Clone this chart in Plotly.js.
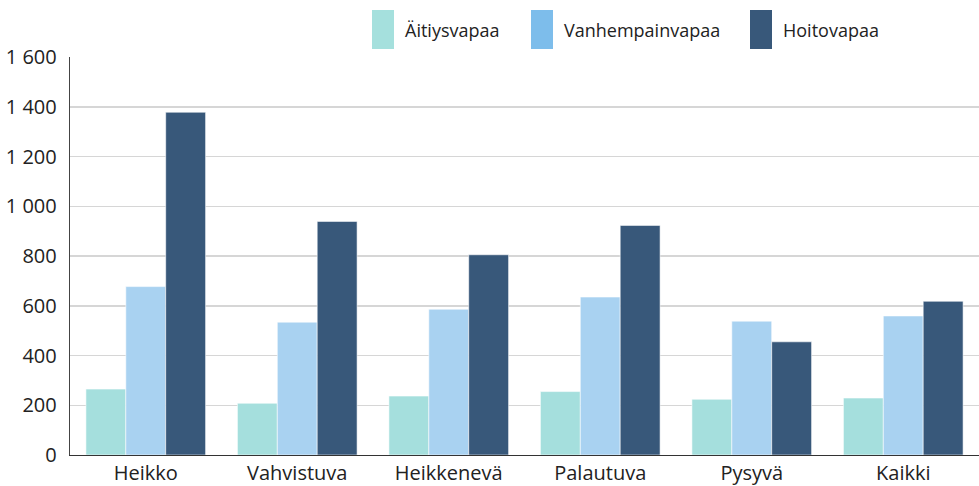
<!DOCTYPE html>
<html><head><meta charset="utf-8">
<script src="https://cdn.plot.ly/plotly-3.0.1.min.js"></script>
<style>html,body{margin:0;padding:0;background:#fff}#c{width:979px;height:486px}</style>
</head><body><div id="c"></div>
<script>
const categories = ["Heikko","Vahvistuva","Heikkenevä","Palautuva","Pysyvä","Kaikki"];
const seriesNames = ["Äitiysvapaa","Vanhempainvapaa","Hoitovapaa"];
const aitiysvapaa = [265, 208, 237, 255, 224, 229];
const vanhempainvapaa = [677, 534, 586, 635, 538, 559];
const hoitovapaa = [1378, 939, 805, 923, 455, 618];
const barColors = ["#a5dfdd", "#a9d2f1", "#38587a"];
const legendColors = ["#a5e0dd", "#7dbdeb", "#38587a"];
const yTicks = [0,200,400,600,800,1000,1200,1400,1600];

const values = [aitiysvapaa, vanhempainvapaa, hoitovapaa];
const traces = values.map((v,i)=>({
  type:'bar', x:categories, y:v, name:seriesNames[i],
  marker:{color:barColors[i], line:{color:'rgba(255,255,255,0.7)', width:0.8}},
  showlegend:false, hoverinfo:'x+y'
}));

const W = 909, H = 398;
const px = x => (x-70)/W;
const py = y => (455-y)/H;
const legendX = [372, 531, 750];
const legendW = 22;
const shapes = [], annotations = [];
legendX.forEach((x,i)=>{
  shapes.push({type:'rect', xref:'paper', yref:'paper', x0:px(x), x1:px(x+legendW), y0:py(49), y1:py(10),
    fillcolor:legendColors[i], line:{width:0}});
  annotations.push({xref:'paper', yref:'paper', x:px(x+legendW+9), y:py(30), xanchor:'left', yanchor:'middle',
    text:seriesNames[i], showarrow:false, font:{family:'Open Sans, Noto Sans, sans-serif', size:18, color:'#222'}});
});

const layout = {
  width:979, height:486,
  margin:{l:70, r:0, t:57, b:31},
  paper_bgcolor:'#fff', plot_bgcolor:'#fff',
  barmode:'group', bargap:0.21, bargroupgap:0,
  separators:', ',
  font:{family:'Open Sans, Noto Sans, sans-serif', size:20, color:'#222'},
  showlegend:false,
  xaxis:{showgrid:false, showline:true, linecolor:'#333', linewidth:1.3, ticks:'', tickfont:{size:20, color:'#222'}, ticklabelstandoff:0},
  yaxis:{range:[0,1600], tickvals:yTicks, tickformat:',d', separatethousands:true, showgrid:true, gridcolor:'#d6d6d6', gridwidth:1.5,
    showline:true, linecolor:'#444', linewidth:1.3, zeroline:false, ticks:'', ticklabelstandoff:8, tickfont:{size:20, color:'#222'}},
  shapes:shapes, annotations:annotations
};
Plotly.newPlot('c', traces, layout, {displayModeBar:false, staticPlot:true});
</script></body></html>
